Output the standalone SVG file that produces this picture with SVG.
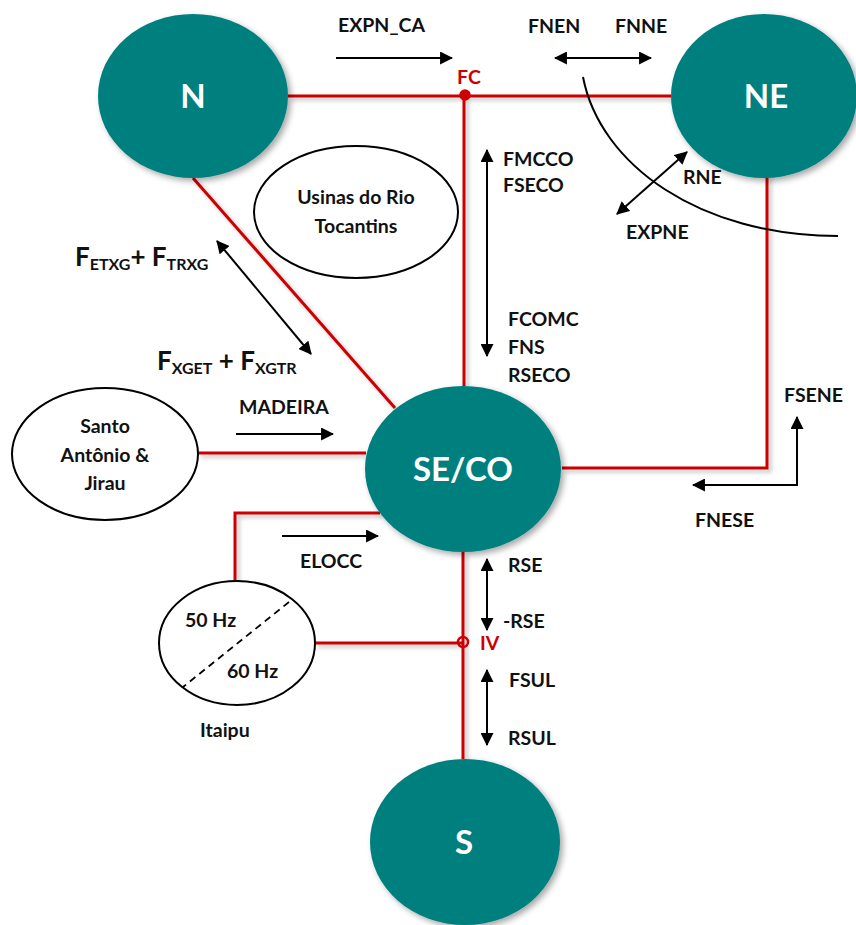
<svg xmlns="http://www.w3.org/2000/svg" width="856" height="925" viewBox="0 0 856 925">
<defs>
<marker id="ah" viewBox="0 0 12 12" refX="11" refY="6" markerWidth="13" markerHeight="13" markerUnits="userSpaceOnUse" orient="auto-start-reverse"><path d="M0,0 L12,6 L0,12 z" fill="#000"/></marker>
<filter id="sh" x="-20%" y="-20%" width="150%" height="150%"><feGaussianBlur in="SourceAlpha" stdDeviation="3"/><feOffset dx="3" dy="3"/><feComponentTransfer><feFuncA type="linear" slope="0.35"/></feComponentTransfer><feMerge><feMergeNode/><feMergeNode in="SourceGraphic"/></feMerge></filter>
<filter id="lsh" x="-5%" y="-5%" width="110%" height="110%"><feGaussianBlur in="SourceAlpha" stdDeviation="2"/><feOffset dx="3" dy="3"/><feComponentTransfer><feFuncA type="linear" slope="0.25"/></feComponentTransfer><feMerge><feMergeNode/><feMergeNode in="SourceGraphic"/></feMerge></filter>
</defs>
<style>
.t{font-family:Lato,"Liberation Sans",sans-serif;font-weight:bold;font-size:19.5px;fill:#111}
.big{font-family:Lato,"Liberation Sans",sans-serif;font-weight:bold;font-size:33px;fill:#fff;text-anchor:middle}
.red{stroke:#CC0000;stroke-width:3;fill:none}
.ar{stroke:#000;stroke-width:2;fill:none}
.rt{font-family:Lato,"Liberation Sans",sans-serif;font-weight:bold;font-size:19.5px;fill:#CC0000}
.node{fill:#007F7F}
.ol{fill:#fff;stroke:#000;stroke-width:2}
.f{font-size:26px}
.sub{font-size:16px}
</style>
<g id="connectors">
<g filter="url(#lsh)">
<path class="red" d="M288,96 H671"/>
<path class="red" d="M464,96 V386"/>
<path class="red" d="M767,175 V468 H562"/>
<path class="red" d="M193,178 L395,408"/>
<path class="red" d="M198,453 H366"/>
<path class="red" d="M380,513 H235 V581"/>
<path class="red" d="M315,643 H463"/>
<path class="red" d="M463,552 V759"/>
</g>
<circle cx="465" cy="95" r="5" fill="#CC0000" stroke="#CC0000" stroke-width="1.5"/>
<circle cx="463" cy="642" r="5" fill="none" stroke="#CC0000" stroke-width="2.5"/>
<path class="ar" d="M336,58 H452" marker-end="url(#ah)"/>
<path class="ar" d="M555,58 H651" marker-start="url(#ah)" marker-end="url(#ah)"/>
<path class="ar" d="M583,77 C600,165 700,236 838,236"/>
<path class="ar" d="M617,214 L687,152" marker-start="url(#ah)" marker-end="url(#ah)"/>
<path class="ar" d="M487,150 V356" marker-start="url(#ah)" marker-end="url(#ah)"/>
<path class="ar" d="M797,417 V485 H693" marker-start="url(#ah)" marker-end="url(#ah)"/>
<path class="ar" d="M217,241 L311,354" marker-start="url(#ah)" marker-end="url(#ah)"/>
<path class="ar" d="M236,434 H333" marker-end="url(#ah)"/>
<path class="ar" d="M282,536 H378" marker-end="url(#ah)"/>
<path class="ar" d="M487,559 V630" marker-start="url(#ah)" marker-end="url(#ah)"/>
<path class="ar" d="M487,670 V745" marker-start="url(#ah)" marker-end="url(#ah)"/>
</g>
<g id="N"><ellipse class="node" cx="193" cy="96" rx="95" ry="82" filter="url(#sh)"/><text class="big" x="193" y="108">N</text></g>
<g id="NE"><ellipse class="node" cx="764" cy="96" rx="93" ry="82" filter="url(#sh)"/><text class="big" x="766" y="108">NE</text></g>
<g id="SECO"><ellipse class="node" cx="463" cy="469" rx="98" ry="83" filter="url(#sh)"/><text class="big" x="463" y="481">SE/CO</text></g>
<g id="S"><ellipse class="node" cx="465" cy="842" rx="95" ry="83" filter="url(#sh)"/><text class="big" x="464" y="854">S</text></g>
<g id="Usinas"><ellipse class="ol" cx="356" cy="212" rx="102" ry="66"/><text class="t" x="356" y="204" text-anchor="middle">Usinas do Rio</text><text class="t" x="356" y="233" text-anchor="middle">Tocantins</text></g>
<g id="SantoAntonio"><ellipse class="ol" cx="105" cy="454" rx="93" ry="66"/><text class="t" x="105" y="433" text-anchor="middle">Santo</text><text class="t" x="105" y="462" text-anchor="middle">Antônio &amp;</text><text class="t" x="105" y="490" text-anchor="middle">Jirau</text></g>
<g id="Itaipu"><ellipse class="ol" cx="237" cy="643" rx="78" ry="62"/><path d="M289,602 L183,687" stroke="#000" stroke-width="1.8" stroke-dasharray="7,5"/><text class="t" x="185" y="627">50 Hz</text><text class="t" x="227" y="678">60 Hz</text><text class="t" x="200" y="737">Itaipu</text></g>
<g id="labels">
<text class="t" x="338" y="32">EXPN_CA</text>
<text class="rt" x="457" y="84">FC</text>
<text class="t" x="528" y="33">FNEN</text>
<text class="t" x="615" y="33">FNNE</text>
<text class="t" x="683" y="184">RNE</text>
<text class="t" x="626" y="239">EXPNE</text>
<text class="t" x="503" y="166">FMCCO</text>
<text class="t" x="503" y="192">FSECO</text>
<text class="t" x="508" y="326">FCOMC</text>
<text class="t" x="508" y="354">FNS</text>
<text class="t" x="508" y="382">RSECO</text>
<text class="t" x="784" y="402">FSENE</text>
<text class="t" x="695" y="527">FNESE</text>
<text class="t" x="239" y="414">MADEIRA</text>
<text class="t" x="300" y="568">ELOCC</text>
<text class="t" x="508" y="572">RSE</text>
<text class="t" x="503" y="628">-RSE</text>
<text class="rt" x="480" y="650">IV</text>
<text class="t" x="509" y="687">FSUL</text>
<text class="t" x="508" y="745">RSUL</text>
<text class="t f" x="75" y="266">F<tspan class="sub" dy="4">ETXG</tspan><tspan dy="-4">+ F</tspan><tspan class="sub" dy="4">TRXG</tspan></text>
<text class="t f" x="157" y="370">F<tspan class="sub" dy="4">XGET</tspan><tspan dy="-4"> + F</tspan><tspan class="sub" dy="4">XGTR</tspan></text>
</g>
</svg>
